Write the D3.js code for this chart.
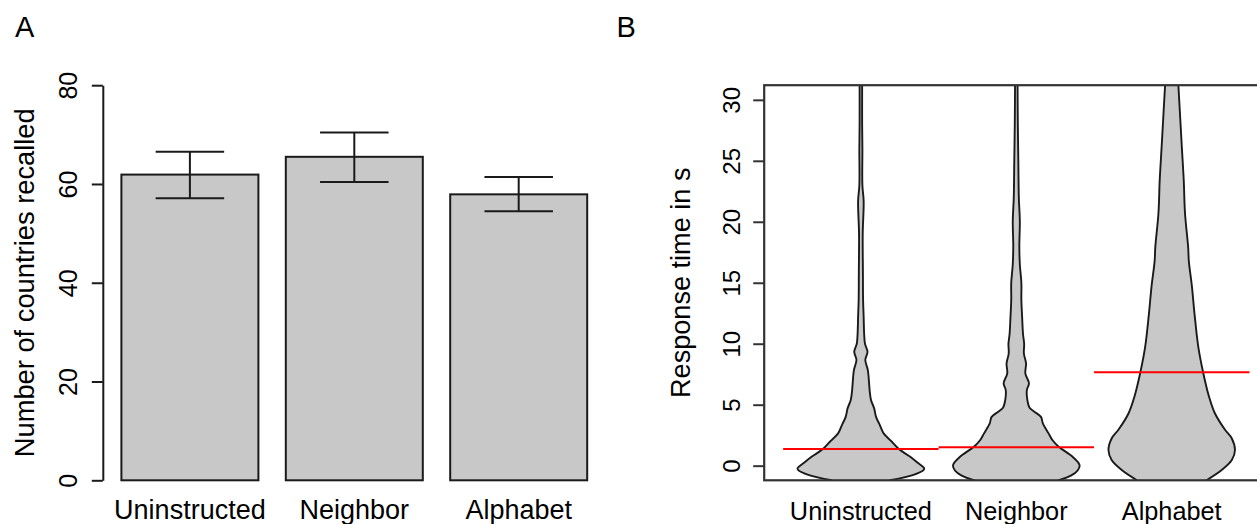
<!DOCTYPE html>
<html>
<head>
<meta charset="utf-8">
<script src="https://cdn.jsdelivr.net/npm/d3@7"></script>
<style>
  html, body { margin: 0; padding: 0; background: #fff; }
  svg { display: block; }
  text { font-family: "Liberation Sans", Arial, Helvetica, sans-serif; fill: #000; }
</style>
</head>
<body>
<svg id="chart" width="1257" height="524"></svg>
<script>
// ---------- DATA ----------
const categories = ["Uninstructed", "Neighbor", "Alphabet"];

// Panel A: number of countries recalled
const meanRecalled = [61.9, 65.5, 57.9];
const errLow = [57.1, 60.4, 54.5];
const errHigh = [66.5, 70.4, 61.4];
const ticksA = [0, 20, 40, 60, 80];

// Panel B: response time distributions (violin outlines: level in s, relative half-width)
const rtUninstructedLevels = [-1.2, -0.77, -0.36, -0.2, 0.19, 0.73, 1.36, 1.96, 2.65, 3.33, 4.0, 4.7, 5.38, 6.1, 6.75, 7.84, 8.66, 9.34, 10.0, 10.8, 12.2, 13.6, 16, 19, 21.7, 23, 26, 28, 31.2];
const rtUninstructedWidth = [0.46, 0.82, 0.99, 1.0, 0.91, 0.78, 0.60, 0.49, 0.36, 0.30, 0.24, 0.21, 0.16, 0.14, 0.13, 0.11, 0.07, 0.105, 0.065, 0.052, 0.044, 0.035, 0.032, 0.029, 0.044, 0.024, 0.024, 0.02, 0.02];
const rtNeighborLevels = [-1.2, -0.8, -0.4, 0.05, 0.73, 1.55, 2.1, 2.65, 3.47, 4.0, 4.45, 4.75, 5.38, 6.2, 6.75, 7.57, 8.39, 9.2, 10, 10.8, 12.2, 13.6, 15, 16.5, 18, 20, 22, 25, 28, 31.2];
const rtNeighborWidth = [0.66, 0.87, 0.97, 1.0, 0.89, 0.67, 0.57, 0.51, 0.42, 0.39, 0.28, 0.21, 0.175, 0.167, 0.2, 0.143, 0.154, 0.12, 0.124, 0.106, 0.092, 0.08, 0.08, 0.056, 0.048, 0.056, 0.04, 0.032, 0.024, 0.02];
const rtAlphabetLevels = [-1.2, -0.36, 0.46, 1.28, 2.23, 2.96, 4.32, 5.65, 7.56, 9.74, 12.47, 14.66, 16.8, 17.9, 20.7, 23.4, 26.1, 28.9, 31.2];
const rtAlphabetWidth = [0.55, 0.79, 0.95, 1.0, 0.95, 0.84, 0.68, 0.59, 0.50, 0.42, 0.36, 0.32, 0.27, 0.26, 0.21, 0.19, 0.16, 0.13, 0.105];
const rtCentral = [1.37, 1.51, 7.67];
const ticksB = [0, 5, 10, 15, 20, 25, 30];

const violins = [
  { levels: rtUninstructedLevels, width: rtUninstructedWidth },
  { levels: rtNeighborLevels, width: rtNeighborWidth },
  { levels: rtAlphabetLevels, width: rtAlphabetWidth }
];

// ---------- DRAW ----------
const svg = d3.select("#chart");
const ink = "#1a1a1a";

// Panel labels
svg.append("text").attr("x", 15).attr("y", 37.3).style("font-size", "29px").text("A");
svg.append("text").attr("x", 616.5).attr("y", 37.4).style("font-size", "29px").text("B");

// ===== Panel A =====
const gA = svg.append("g");
const xA = d3.scaleLinear().domain([0, 3.8]).range([94.0, 94.0 + 3.8 * 137]);
const yA = d3.scaleLinear().domain([0, 80]).range([480.3, 85.2]);
const barW = 1, barSpace = 0.2;
const barLeft = i => barSpace + i * (barW + barSpace);
const barMid = i => barLeft(i) + barW / 2;

gA.selectAll("rect.bar").data(meanRecalled).join("rect")
  .attr("class", "bar")
  .attr("x", (d, i) => xA(barLeft(i)))
  .attr("width", xA(barW) - xA(0))
  .attr("y", d => yA(d))
  .attr("height", d => yA(0) - yA(d))
  .attr("fill", "#c8c8c8")
  .attr("stroke", ink)
  .attr("stroke-width", 2);

// error bars
const capHalf = 0.25;
const eb = gA.selectAll("g.err").data(categories).join("g").attr("class", "err")
  .attr("stroke", ink).attr("stroke-width", 2);
eb.append("line")
  .attr("x1", (d, i) => xA(barMid(i))).attr("x2", (d, i) => xA(barMid(i)))
  .attr("y1", (d, i) => yA(errLow[i])).attr("y2", (d, i) => yA(errHigh[i]));
eb.append("line")
  .attr("x1", (d, i) => xA(barMid(i) - capHalf)).attr("x2", (d, i) => xA(barMid(i) + capHalf))
  .attr("y1", (d, i) => yA(errHigh[i])).attr("y2", (d, i) => yA(errHigh[i]));
eb.append("line")
  .attr("x1", (d, i) => xA(barMid(i) - capHalf)).attr("x2", (d, i) => xA(barMid(i) + capHalf))
  .attr("y1", (d, i) => yA(errLow[i])).attr("y2", (d, i) => yA(errLow[i]));

// y axis A
const axA = gA.append("g").attr("transform", "translate(102.8,0)")
  .call(d3.axisLeft(yA).tickValues(ticksA).tickSize(11).tickSizeOuter(0).tickFormat(d3.format("d")));
axA.select(".domain").attr("stroke", ink).attr("stroke-width", 2);
axA.selectAll(".tick line").attr("stroke", ink).attr("stroke-width", 2);
axA.selectAll(".tick text")
  .attr("x", null).attr("dy", null)
  .attr("transform", "translate(-26.3,0) rotate(-90)")
  .attr("text-anchor", "middle")
  .style("font-size", "25px")
  .style("font-family", "'Liberation Sans', Arial, sans-serif")
  .attr("fill", "#000");

// x category labels A
gA.selectAll("text.cat").data(categories).join("text")
  .attr("class", "cat")
  .attr("x", (d, i) => xA(barMid(i)))
  .attr("y", 519.3)
  .attr("text-anchor", "middle")
  .style("font-size", "27px")
  .text(d => d);

// y axis title A
gA.append("text")
  .attr("transform", `translate(33.6,${(yA(0) + yA(80)) / 2}) rotate(-90)`)
  .attr("text-anchor", "middle")
  .style("font-size", "27.3px")
  .text("Number of countries recalled");

// ===== Panel B =====
const gB = svg.append("g");
const xB = d3.scaleLinear().domain([0.378, 3.622]).range([764.2, 1268.4]);
const yB = d3.scaleLinear().domain([-1.2, 31.2]).range([480.3, 85.2]);
const hw = d3.scaleLinear().domain([0, 1]).range([0, 0.407]);

svg.append("defs").append("clipPath").attr("id", "clipB")
  .append("rect")
  .attr("x", xB.range()[0]).attr("y", yB.range()[1])
  .attr("width", xB.range()[1] - xB.range()[0])
  .attr("height", yB.range()[0] - yB.range()[1]);

const plotB = gB.append("g").attr("clip-path", "url(#clipB)");
const curve = d3.curveCatmullRom.alpha(0.5);

violins.forEach((v, i) => {
  const c = i + 1;
  const pts = v.levels.map((lv, k) => ({ y: lv, w: v.width[k] }));
  const area = d3.area()
    .y(d => yB(d.y))
    .x0(d => xB(c - hw(d.w)))
    .x1(d => xB(c + hw(d.w)))
    .curve(curve);
  plotB.append("path").datum(pts).attr("d", area).attr("fill", "#c8c8c8").attr("stroke", "none");
  const left = d3.line().y(d => yB(d.y)).x(d => xB(c - hw(d.w))).curve(curve);
  const right = d3.line().y(d => yB(d.y)).x(d => xB(c + hw(d.w))).curve(curve);
  plotB.append("path").datum(pts).attr("d", left).attr("fill", "none").attr("stroke", ink).attr("stroke-width", 1.9);
  plotB.append("path").datum(pts).attr("d", right).attr("fill", "none").attr("stroke", ink).attr("stroke-width", 1.9);
});

// central-tendency red lines
plotB.selectAll("line.med").data(rtCentral).join("line")
  .attr("class", "med")
  .attr("x1", (d, i) => xB(i + 1 - 0.5)).attr("x2", (d, i) => xB(i + 1 + 0.5))
  .attr("y1", d => yB(d)).attr("y2", d => yB(d))
  .attr("stroke", "#ff0000").attr("stroke-width", 2);

// box
gB.append("rect")
  .attr("x", xB.range()[0]).attr("y", yB.range()[1])
  .attr("width", xB.range()[1] - xB.range()[0])
  .attr("height", yB.range()[0] - yB.range()[1])
  .attr("fill", "none").attr("stroke", "#333").attr("stroke-width", 2.2);

// y axis B
const axB = gB.append("g").attr("transform", `translate(${xB.range()[0]},0)`)
  .call(d3.axisLeft(yB).tickValues(ticksB).tickSize(11).tickFormat(d3.format("d")));
axB.select(".domain").remove();
axB.selectAll(".tick line").attr("stroke", "#333").attr("stroke-width", 2);
axB.selectAll(".tick text")
  .attr("x", null).attr("dy", null)
  .attr("transform", "translate(-24.2,0) rotate(-90)")
  .attr("text-anchor", "middle")
  .style("font-size", "24px")
  .style("font-family", "'Liberation Sans', Arial, sans-serif")
  .attr("fill", "#000");

// x category labels B
gB.selectAll("text.cat").data(categories).join("text")
  .attr("class", "cat")
  .attr("x", (d, i) => xB(i + 1))
  .attr("y", 519.5)
  .attr("text-anchor", "middle")
  .style("font-size", "25.3px")
  .text(d => d);

// y axis title B
gB.append("text")
  .attr("transform", `translate(690,${(yB.range()[0] + yB.range()[1]) / 2}) rotate(-90)`)
  .attr("text-anchor", "middle")
  .style("font-size", "27.1px")
  .text("Response time in s");
</script>
</body>
</html>
